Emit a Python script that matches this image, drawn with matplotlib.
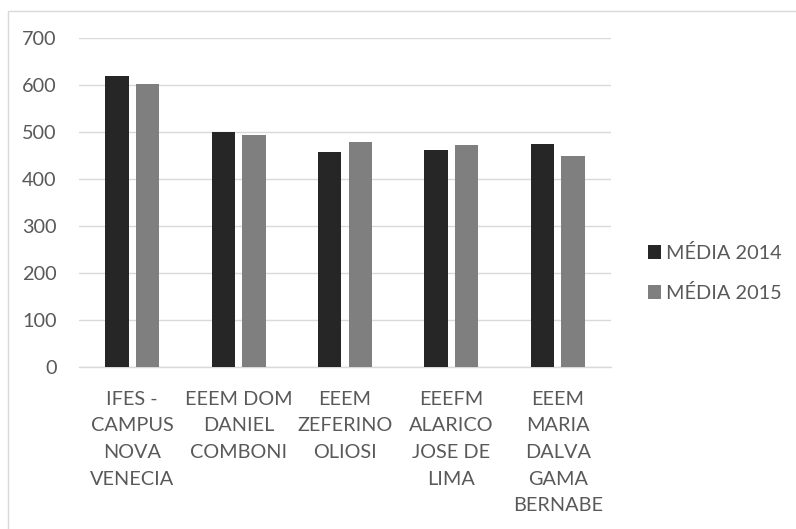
import matplotlib
matplotlib.use("Agg")
import matplotlib.pyplot as plt
from matplotlib.patches import Rectangle, Patch
import numpy as np

categories = ["IFES -\nCAMPUS\nNOVA\nVENECIA",
              "EEEM DOM\nDANIEL\nCOMBONI",
              "EEEM\nZEFERINO\nOLIOSI",
              "EEEFM\nALARICO\nJOSE DE\nLIMA",
              "EEEM\nMARIA\nDALVA\nGAMA\nBERNABE"]
media_2014 = [620, 501, 458, 463, 475]
media_2015 = [603, 494, 480, 472, 449]
series_labels = ["MÉDIA 2014", "MÉDIA 2015"]
yticks = [0, 100, 200, 300, 400, 500, 600, 700]

plt.rcParams['font.family'] = ['Lato', 'DejaVu Sans']
TXT = '#595959'
GRID = '#d9d9d9'
C14 = '#262626'
C15 = '#7f7f7f'
FS = 14.3

W, H = 796, 529
fig = plt.figure(figsize=(W/100, H/100), dpi=100)
# chart area border
fig.patches.append(Rectangle((8/W, -0.1), 1.2, 1.1 - 11/H, transform=fig.transFigure,
                             fill=False, edgecolor=GRID, linewidth=1.0))

ax = fig.add_axes([79/W, 1-367/H, (611-79)/W, (367-38.3)/H])
x = np.arange(len(categories))
bw = 0.22
off = 0.143
ax.bar(x - off, media_2014, width=bw, color=C14, label=series_labels[0], zorder=3)
ax.bar(x + off, media_2015, width=bw, color=C15, label=series_labels[1], zorder=3)

ax.set_xlim(-0.5, len(categories) - 0.5)
ax.set_ylim(0, 700)
ax.set_yticks(yticks)
ax.set_yticklabels([str(v) for v in yticks])
ax.set_xticks(x)
ax.set_xticklabels(categories, linespacing=1.69)
ax.yaxis.grid(True, color=GRID, linewidth=1.0, zorder=0)
for s in ['top', 'right', 'left']:
    ax.spines[s].set_visible(False)
ax.spines['bottom'].set_color(GRID)
ax.spines['bottom'].set_linewidth(1.0)
ax.tick_params(axis='both', length=0, labelsize=FS, labelcolor=TXT)
ax.tick_params(axis='y', pad=16)
ax.tick_params(axis='x', pad=17)

handles = [Patch(facecolor=C14, label=series_labels[0]), Patch(facecolor=C15, label=series_labels[1])]
leg = fig.legend(handles=handles, loc='center left', bbox_to_anchor=(648/W, 1-273/H),
                 frameon=False, fontsize=FS, handlelength=0.66, handleheight=0.66,
                 handletextpad=0.25, labelspacing=1.12, borderaxespad=0, borderpad=0)
for t in leg.get_texts():
    t.set_color(TXT)

fig.savefig("out.png", dpi=100)
